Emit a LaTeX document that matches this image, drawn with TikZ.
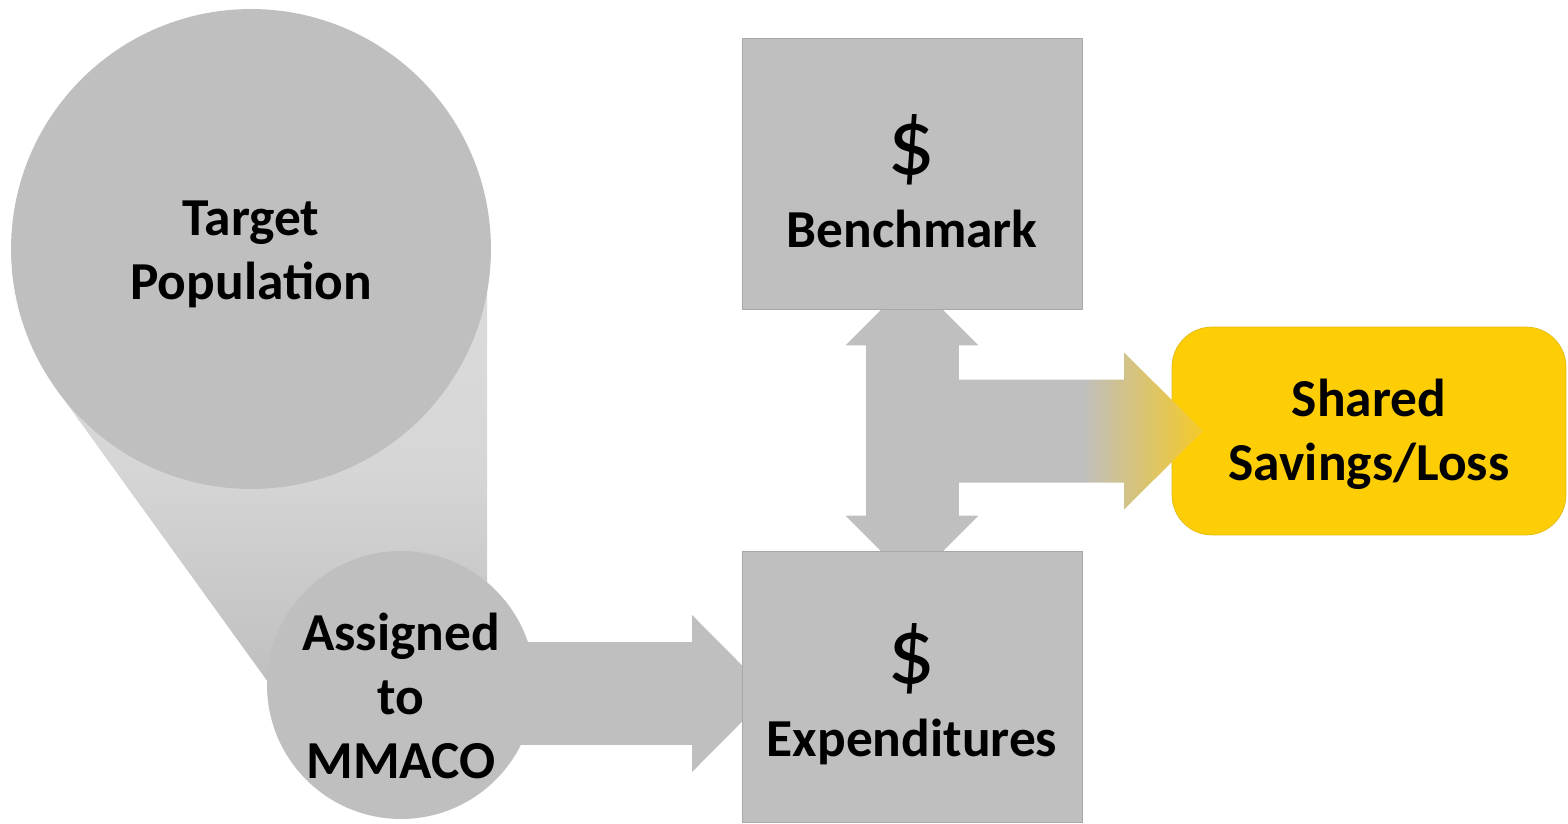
\documentclass[tikz,border=0pt]{standalone}
\usepackage{fontspec}
\setmainfont{Carlito}
\usetikzlibrary{arrows.meta,calc,backgrounds}

\definecolor{boxgray}{RGB}{191,191,191}
\definecolor{edgegray}{RGB}{168,168,168}
\definecolor{funnellight}{RGB}{220,220,220}
\definecolor{funnelmid}{RGB}{214,214,214}
\definecolor{savegold}{RGB}{253,206,6}
\definecolor{savedge}{RGB}{226,186,20}
\definecolor{tipgold}{RGB}{244,201,40}

% gray shaft fading into gold towards the tip
\pgfdeclarehorizontalshading{graytogold}{100bp}{color(0bp)=(boxgray); color(52bp)=(boxgray); color(75bp)=(tipgold); color(100bp)=(tipgold)}

\tikzset{
  txt/.style={align=center, inner sep=0pt, font=\bfseries\fontsize{30.4}{36.5}\selectfont},
  popcircle/.style={circle, fill=boxgray, inner sep=0pt, outer sep=0pt},
  costbox/.style={rectangle, fill=boxgray, draw=edgegray, line width=0.5pt,
    minimum width=6.8cm, minimum height=5.42cm, inner sep=0pt, outer sep=0pt},
  resultbox/.style={rectangle, rounded corners=0.8cm, fill=savegold, draw=savedge, line width=0.4pt,
    minimum width=7.88cm, minimum height=4.16cm, inner sep=0pt, outer sep=0pt},
  fatarrow/.style={draw=boxgray, line width=2.06cm,
    -{Triangle[length=1.56cm,width=3.14cm,line width=0pt]}, shorten >=-0.56cm},
  dblarrow/.style={draw=boxgray, line width=1.86cm,
    {Triangle[length=1.33cm,width=2.66cm,line width=0pt]}-{Triangle[length=1.33cm,width=2.66cm,line width=0pt]},
    shorten >=-0.62cm, shorten <=-0.6cm},
}
\newcommand{\dollar}{{\mdseries\fontsize{54}{54}\selectfont\$}}

\begin{document}
\begin{tikzpicture}[x=0.02cm,y=-0.02cm]
  \useasboundingbox (0,0) rectangle (1568,824);

  \node[popcircle, minimum size=9.6cm,
    label={[txt,yshift=-0.1cm]center:Target\\Population}] (target) at (251,249) {};
  \node[popcircle, minimum size=5.36cm,
    label={[txt,yshift=-0.22cm]center:Assigned\\to\\MMACO}] (mmaco) at (401,685) {};

  \node[costbox, label={[txt,yshift=-0.16cm]center:\dollar\\[5pt]Benchmark}] (bench) at (912,173.5) {};
  \node[costbox, label={[txt,yshift=-0.16cm]center:\dollar\\[5pt]Expenditures}] (expend) at (912,686.5) {};

  \node[resultbox, label={[txt,yshift=-0.06cm]center:Shared\\Savings/Loss}] (savings) at (1369,431) {};

  \begin{scope}[on background layer]
    % funnel between the two populations
    \shade[top color=funnellight, bottom color=boxgray, middle color=funnelmid]
      (target.center) -- (57,390) -- (268,682) -- (mmaco.center)
      -- (487,582) -- (487,293) -- cycle;
    \draw[fatarrow] (mmaco.center |- 0,693.5) -- (expend.west |- 0,693.5);
    \draw[dblarrow] (bench) -- (expend);
  \end{scope}

  % outcome arrow, drawn over the gold box
  \coordinate (gs) at (940,431);
  \coordinate (gt) at ($(savings.west)+(31,0)$);
  \shade[shading=graytogold]
    ($(gs)+(0,-51.5)$) -- ($(gt)+(-79,-51.5)$) -- ($(gt)+(-79,-78.5)$) -- (gt)
    -- ($(gt)+(-79,78.5)$) -- ($(gt)+(-79,51.5)$) -- ($(gs)+(0,51.5)$) -- cycle;
\end{tikzpicture}
\end{document}
